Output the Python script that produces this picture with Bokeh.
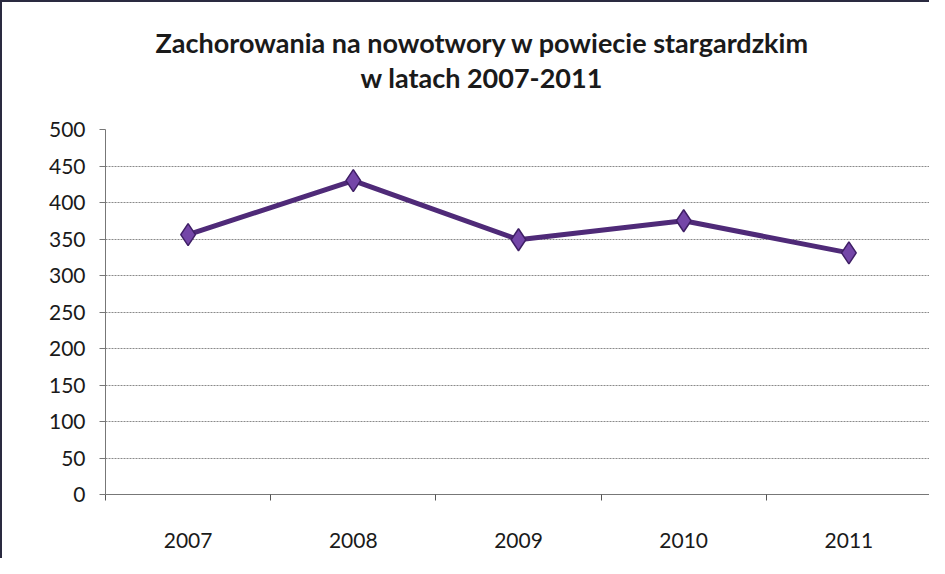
from bokeh.plotting import figure
from bokeh.models import Range1d, FixedTicker, Title
from bokeh.embed import file_html
from bokeh.resources import INLINE

years = ["2007", "2008", "2009", "2010", "2011"]
cases = [356, 430, 349, 375, 331]
y_ticks = [0, 50, 100, 150, 200, 250, 300, 350, 400, 450, 500]
title_lines = ["Zachorowania na nowotwory w powiecie stargardzkim", "w latach 2007-2011"]

xs = list(range(1, len(years) + 1))

p = figure(width=929, height=558, output_backend="svg", toolbar_location=None,
           x_range=Range1d(0.5, len(years) + 0.5), y_range=Range1d(0, 500),
           min_border_left=103, min_border_right=0, min_border_bottom=66, min_border_top=127)

p.styles = {"border-left": "2px solid #2a2a40", "border-top": "2px solid #2a2a40"}

p.title = None
spacer = Title(text=" ", text_font_size="10px", standoff=23)
t2 = Title(text=title_lines[1], align="left", text_font="Lato", text_font_size="27px",
           text_font_style="bold", text_color="#1a1a1a", standoff=0, offset=255)
t1 = Title(text=title_lines[0], align="left", text_font="Lato", text_font_size="27px",
           text_font_style="bold", text_color="#1a1a1a", standoff=0, offset=50)
p.add_layout(spacer, "above")
p.add_layout(t2, "above")
p.add_layout(t1, "above")

p.line(xs, cases, line_color="#4f2a78", line_width=5)
p.scatter(xs, cases, marker="diamond", size=22, fill_color="#7446a8", line_color="#3f1f66", line_width=1.5)

p.xaxis.ticker = FixedTicker(ticks=xs, minor_ticks=[i + 0.5 for i in range(0, len(years) + 1)])
p.xaxis.major_label_overrides = {i + 1: y for i, y in enumerate(years)}
p.xaxis.major_tick_line_color = None
p.xaxis.minor_tick_line_color = "#555555"
p.xaxis.minor_tick_out = 6
p.xaxis.minor_tick_in = 0
p.xaxis.axis_line_color = "#777777"
p.xaxis.major_label_standoff = 32
p.xaxis.major_label_text_font = "Lato"
p.xaxis.major_label_text_font_size = "21px"
p.xaxis.major_label_text_color = "#1a1a1a"

p.yaxis.ticker = FixedTicker(ticks=y_ticks)
p.yaxis.axis_line_color = "#777777"
p.yaxis.major_tick_line_color = "#777777"
p.yaxis.major_tick_out = 6
p.yaxis.major_tick_in = 0
p.yaxis.minor_tick_line_color = None
p.yaxis.major_label_standoff = 14
p.yaxis.major_label_text_font = "Lato"
p.yaxis.major_label_text_font_size = "21px"
p.yaxis.major_label_text_color = "#1a1a1a"

p.xgrid.grid_line_color = None
p.ygrid.ticker = FixedTicker(ticks=y_ticks)
p.ygrid.grid_line_color = "#8a8a8a"
p.ygrid.grid_line_width = 1
p.ygrid.grid_line_dash = "2 1"
p.outline_line_color = None

open("out.html", "w").write(file_html(p, INLINE))
